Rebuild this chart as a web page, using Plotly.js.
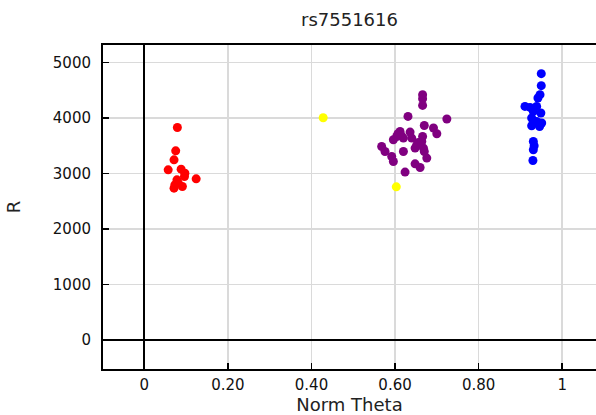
<!DOCTYPE html>
<html>
<head>
<meta charset="utf-8">
<script src="https://cdn.plot.ly/plotly-3.0.1.min.js"></script>
<style>html,body{margin:0;padding:0;background:#fff;}#chart{width:596px;height:415px;}</style>
</head>
<body>
<div id="chart"></div>
<script>
// Cluster AA (red)
var redTheta = [0.079, 0.075, 0.071, 0.057, 0.088, 0.097, 0.096, 0.124, 0.078, 0.073, 0.071, 0.091, 0.081];
var redR     = [3829, 3409, 3247, 3067, 3079, 3007, 2946, 2905, 2886, 2796, 2737, 2766, 2832];
// Unclustered (yellow)
var yellowTheta = [0.428, 0.603];
var yellowR     = [4004, 2760];
// Cluster AB (purple)
var purpleTheta = [0.666, 0.666, 0.666, 0.631, 0.724, 0.670, 0.692, 0.700, 0.612, 0.636, 0.604, 0.596, 0.620, 0.640, 0.666, 0.664, 0.652, 0.668, 0.568, 0.576, 0.620, 0.648, 0.592, 0.596, 0.676, 0.648, 0.660, 0.624, 0.670, 0.607, 0.656, 0.615];
var purpleR     = [4418, 4346, 4226, 4028, 3981, 3865, 3819, 3716, 3757, 3746, 3667, 3608, 3638, 3638, 3667, 3577, 3517, 3458, 3487, 3397, 3397, 3458, 3307, 3217, 3278, 3175, 3109, 3026, 3397, 3716, 3560, 3680];
// Cluster BB (blue)
var blueTheta = [0.950, 0.950, 0.947, 0.942, 0.911, 0.923, 0.939, 0.931, 0.949, 0.927, 0.939, 0.951, 0.927, 0.946, 0.931, 0.933, 0.931, 0.930];
var blueR     = [4798, 4582, 4420, 4359, 4208, 4190, 4208, 4118, 4089, 3999, 3938, 3909, 3860, 3847, 3577, 3500, 3428, 3235];

var xTickVals = [0, 0.2, 0.4, 0.6, 0.8, 1];
var xTickText = ["0", "0.20", "0.40", "0.60", "0.80", "1"];
var yTickVals = [0, 1000, 2000, 3000, 4000, 5000];
var yTickText = ["0", "1000", "2000", "3000", "4000", "5000"];

function tr(x, y, c) {
  return {x: x, y: y, type: 'scatter', mode: 'markers', hoverinfo: 'skip',
          marker: {color: c, size: 9, line: {width: 0}}};
}
var data = [
  tr(redTheta, redR, '#ff0000'),
  tr(purpleTheta, purpleR, '#800080'),
  tr(blueTheta, blueR, '#0000ff'),
  tr(yellowTheta, yellowR, '#ffff00')
];
var font = "'DejaVu Sans', Arial, sans-serif";
var layout = {
  width: 596, height: 415,
  margin: {l: 103, r: 0, t: 45, b: 46, pad: 0},
  paper_bgcolor: '#fff', plot_bgcolor: '#fff',
  showlegend: false,
  font: {family: font, color: '#111', size: 12},
  title: {text: 'rs7551616', x: 0.5, xref: 'paper', xanchor: 'center', y: 0.953, yref: 'container', yanchor: 'middle',
          font: {family: font, size: 18, color: '#222'}},
  xaxis: {
    range: [-0.099, 1.081], tickmode: 'array', tickvals: xTickVals, ticktext: xTickText,
    ticks: 'inside', ticklen: 6, tickcolor: '#000', tickwidth: 1.5,
    showgrid: true, gridcolor: '#dadada', gridwidth: 1.5,
    zeroline: true, zerolinecolor: '#000', zerolinewidth: 2,
    showline: true, linecolor: '#000', linewidth: 2, mirror: true,
    tickfont: {size: 15, color: '#111'}, ticklabelstandoff: 1,
    title: {text: 'Norm Theta', font: {size: 18, color: '#222'}, standoff: 4}
  },
  yaxis: {
    range: [-519, 5314], tickmode: 'array', tickvals: yTickVals, ticktext: yTickText,
    ticks: 'inside', ticklen: 6, tickcolor: '#000', tickwidth: 1.5,
    showgrid: true, gridcolor: '#dadada', gridwidth: 1.5,
    zeroline: true, zerolinecolor: '#000', zerolinewidth: 1.5,
    showline: true, linecolor: '#000', linewidth: 2, mirror: false,
    tickfont: {size: 15, color: '#111'}, ticklabelstandoff: 7,
    title: {text: 'R', font: {size: 18, color: '#222'}, standoff: 28}
  }
};
Plotly.newPlot('chart', data, layout, {displayModeBar: false, staticPlot: true});
</script>
</body>
</html>
